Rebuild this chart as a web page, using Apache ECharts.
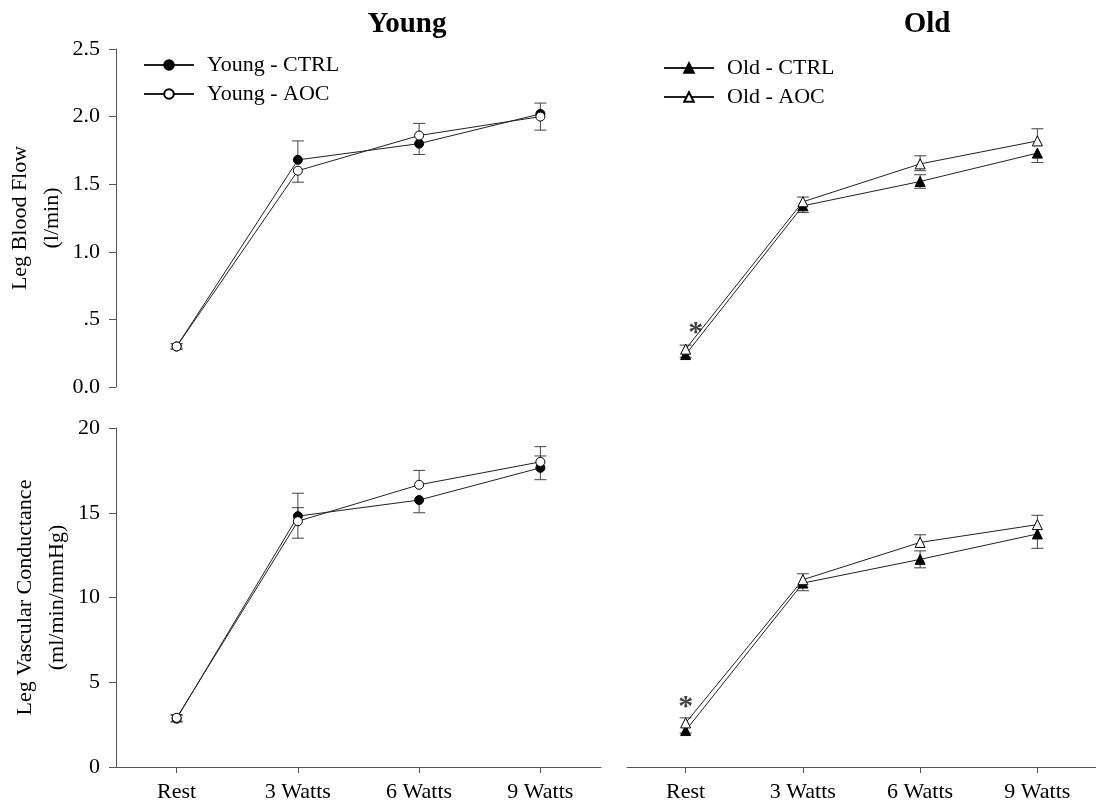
<!DOCTYPE html>
<html>
<head>
<meta charset="utf-8">
<script src="https://cdn.jsdelivr.net/npm/echarts@6/dist/echarts.min.js"></script>
<style>html,body{margin:0;padding:0;background:#fff}#c{width:1096px;height:807px}</style>
</head>
<body>
<div id="c"></div>
<script>
// ---- data ----
const categories = ['Rest', '3 Watts', '6 Watts', '9 Watts'];
const flowTicks = [0, 0.5, 1.0, 1.5, 2.0, 2.5];
const vcTicks = [0, 5, 10, 15, 20];

const youngFlowCtrl = [0.30, 1.68, 1.80, 2.02];
const youngFlowAoc  = [0.30, 1.60, 1.86, 2.00];
const youngFlowCtrlUp = [0.02, 0.14, 0, 0.08];
const youngFlowCtrlDn = [0.02, 0, 0.08, 0];
const youngFlowAocUp  = [0.02, 0, 0.09, 0];
const youngFlowAocDn  = [0.02, 0.085, 0, 0.10];

const oldFlowCtrl = [0.24, 1.34, 1.52, 1.73];
const oldFlowAoc  = [0.28, 1.37, 1.65, 1.82];
const oldFlowCtrlUp = [0, 0, 0.05, 0];
const oldFlowCtrlDn = [0.02, 0.05, 0.05, 0.07];
const oldFlowAocUp  = [0.03, 0.035, 0.06, 0.09];
const oldFlowAocDn  = [0, 0, 0.05, 0];

const youngVcCtrl = [2.85, 14.8, 15.75, 17.65];
const youngVcAoc  = [2.90, 14.5, 16.65, 18.0];
const youngVcCtrlUp = [0.2, 1.35, 0, 0.7];
const youngVcCtrlDn = [0.2, 0, 0.75, 0.7];
const youngVcAocUp  = [0.2, 0.8, 0.85, 0.9];
const youngVcAocDn  = [0.2, 1.0, 0, 0];

const oldVcCtrl = [2.15, 10.85, 12.25, 13.75];
const oldVcAoc  = [2.60, 11.05, 13.25, 14.3];
const oldVcCtrlUp = [0, 0, 0.5, 0];
const oldVcCtrlDn = [0.15, 0.45, 0.5, 0.85];
const oldVcAocUp  = [0.3, 0.35, 0.45, 0.55];
const oldVcAocDn  = [0, 0, 0, 0];

const asteriskFlow = [[0, 0.44]];
const asteriskVc = [[0, 3.85]];

// ---- helpers ----
const FONT = "'Liberation Serif', 'Times New Roman', serif";
function errData(mean, up, dn) {
  return mean.map((m, i) => [i, m - dn[i], m + up[i], up[i] > 0 ? 1 : 0, dn[i] > 0 ? 1 : 0]);
}
function renderErr(params, api) {
  const x = api.value(0), lo = api.value(1), hi = api.value(2);
  const capHi = api.value(3), capLo = api.value(4);
  const pLo = api.coord([x, lo]), pHi = api.coord([x, hi]);
  const st = { stroke: '#444', lineWidth: 1 };
  const ch = [{ type: 'line', shape: { x1: pLo[0], y1: pLo[1], x2: pHi[0], y2: pHi[1] }, style: st }];
  if (capHi) ch.push({ type: 'line', shape: { x1: pHi[0] - 6, y1: pHi[1], x2: pHi[0] + 6, y2: pHi[1] }, style: st });
  if (capLo) ch.push({ type: 'line', shape: { x1: pLo[0] - 6, y1: pLo[1], x2: pLo[0] + 6, y2: pLo[1] }, style: st });
  return { type: 'group', children: ch };
}
function errSeries(idx, mean, up, dn) {
  return {
    type: 'custom', xAxisIndex: idx, yAxisIndex: idx, z: 1, silent: true,
    renderItem: renderErr, data: errData(mean, up, dn), encode: { x: 0, y: [1, 2] }
  };
}
function lineSeries(idx, name, data, symbol, filled) {
  return {
    type: 'line', name: name, xAxisIndex: idx, yAxisIndex: idx, data: data, z: 3,
    symbol: symbol, symbolSize: symbol === 'triangle' ? 10 : 9, showAllSymbol: true,
    lineStyle: { color: '#222', width: 1 },
    itemStyle: { color: filled ? '#000' : '#fff', borderColor: '#000', borderWidth: 1 }
  };
}
function starSeries(idx, data, dx) {
  return {
    type: 'scatter', xAxisIndex: idx, yAxisIndex: idx, data: data, symbolSize: 1, z: 5,
    itemStyle: { color: 'rgba(0,0,0,0)' },
    label: { show: true, formatter: '*', position: 'inside', offset: [dx, 6], fontFamily: FONT, fontSize: 30, fontWeight: 'bold', color: '#111' }
  };
}

const grids = [
  { left: 116, top: 49, width: 485, height: 338 },
  { left: 627, top: 49, width: 485, height: 338 },
  { left: 116, top: 428, width: 485, height: 339 },
  { left: 627, top: 428, width: 485, height: 339 }
];

function xAxis(idx, showAxis) {
  return {
    type: 'category', gridIndex: idx, data: categories, boundaryGap: true,
    axisLine: { show: showAxis, lineStyle: { color: '#555', width: 1 } },
    axisTick: { show: showAxis, alignWithLabel: true, length: 6, lineStyle: { color: '#555' } },
    axisLabel: { show: showAxis, fontFamily: FONT, fontSize: 22, color: '#000', margin: 14 },
    splitLine: { show: false }
  };
}
function yAxis(idx, ticks, fmt, showAxis, name) {
  return {
    type: 'value', gridIndex: idx, min: ticks[0], max: ticks[ticks.length - 1],
    interval: ticks[1] - ticks[0],
    axisLine: { show: showAxis, lineStyle: { color: '#555', width: 1 } },
    axisTick: { show: showAxis, length: 7, lineStyle: { color: '#555' } },
    axisLabel: { show: showAxis, fontFamily: FONT, fontSize: 22, color: '#000', margin: 16, formatter: fmt },
    splitLine: { show: false },
    name: showAxis ? name : '', nameLocation: 'middle', nameRotate: 90, nameGap: 43,
    nameTextStyle: { fontFamily: FONT, fontSize: 22, color: '#000', lineHeight: 32 }
  };
}
const flowFmt = v => (v === 0.5 ? '.5' : v.toFixed(1));
const vcFmt = v => String(v);

function legend(left, top, names) {
  return {
    left: left, top: top, orient: 'vertical', itemWidth: 50, itemHeight: 12, itemGap: 7,
    padding: 0, data: names, selectedMode: false,
    textStyle: { fontFamily: FONT, fontSize: 22, color: '#000', padding: [0, 0, 0, 8] }
  };
}

const option = {
  animation: false,
  backgroundColor: '#fff',
  title: [
    { text: 'Young', left: 402, textAlign: 'center', top: 5, textStyle: { fontFamily: FONT, fontSize: 29, fontWeight: 'bold', color: '#000' } },
    { text: 'Old', left: 922, textAlign: 'center', top: 5, textStyle: { fontFamily: FONT, fontSize: 29, fontWeight: 'bold', color: '#000' } }
  ],
  legend: [
    legend(143, 54, ['Young - CTRL', 'Young - AOC']),
    legend(663, 57, ['Old - CTRL', 'Old - AOC'])
  ],
  grid: grids,
  xAxis: [xAxis(0, false), xAxis(1, false), xAxis(2, true), xAxis(3, true)],
  yAxis: [
    yAxis(0, flowTicks, flowFmt, true, 'Leg Blood Flow\n(l/min)'),
    yAxis(1, flowTicks, flowFmt, false, ''),
    yAxis(2, vcTicks, vcFmt, true, 'Leg Vascular Conductance\n(ml/min/mmHg)'),
    yAxis(3, vcTicks, vcFmt, false, '')
  ],
  series: [
    errSeries(0, youngFlowCtrl, youngFlowCtrlUp, youngFlowCtrlDn),
    errSeries(0, youngFlowAoc, youngFlowAocUp, youngFlowAocDn),
    lineSeries(0, 'Young - CTRL', youngFlowCtrl, 'circle', true),
    lineSeries(0, 'Young - AOC', youngFlowAoc, 'circle', false),

    errSeries(1, oldFlowCtrl, oldFlowCtrlUp, oldFlowCtrlDn),
    errSeries(1, oldFlowAoc, oldFlowAocUp, oldFlowAocDn),
    lineSeries(1, 'Old - CTRL', oldFlowCtrl, 'triangle', true),
    lineSeries(1, 'Old - AOC', oldFlowAoc, 'triangle', false),
    starSeries(1, asteriskFlow, 10),

    errSeries(2, youngVcCtrl, youngVcCtrlUp, youngVcCtrlDn),
    errSeries(2, youngVcAoc, youngVcAocUp, youngVcAocDn),
    lineSeries(2, 'Young - CTRL', youngVcCtrl, 'circle', true),
    lineSeries(2, 'Young - AOC', youngVcAoc, 'circle', false),

    errSeries(3, oldVcCtrl, oldVcCtrlUp, oldVcCtrlDn),
    errSeries(3, oldVcAoc, oldVcAocUp, oldVcAocDn),
    lineSeries(3, 'Old - CTRL', oldVcCtrl, 'triangle', true),
    lineSeries(3, 'Old - AOC', oldVcAoc, 'triangle', false),
    starSeries(3, asteriskVc, 0)
  ]
};
const chart = echarts.init(document.getElementById('c'), null, { renderer: 'canvas' });
chart.setOption(option);
</script>
</body>
</html>
